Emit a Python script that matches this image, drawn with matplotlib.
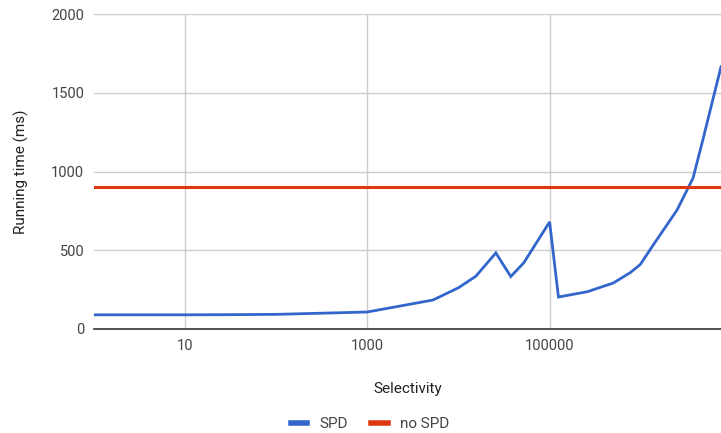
import matplotlib
matplotlib.use("Agg")
import matplotlib.pyplot as plt
from matplotlib.lines import Line2D

# values
selectivity = [1, 3, 10, 30, 100, 300, 1000, 5250, 10000, 15500, 25700, 37500,
               52000, 100000, 125000, 260000, 500000, 768000, 990000, 1370000,
               2500000, 3750000, 4800000, 7600000]
spd_ms = [90, 90, 90, 91, 93, 100, 108, 184, 262, 335, 483, 333,
          420, 680, 203, 237, 292, 358, 410, 533,
          755, 958, 1200, 1665]
no_spd_ms = 900

x_ticks = [10, 1000, 100000]
x_tick_labels = ["10", "1000", "100000"]
y_ticks = [0, 500, 1000, 1500, 2000]

blue = "#3366cc"
red = "#dc3912"
text_col = "#444444"

plt.rcParams["font.family"] = ["Roboto", "DejaVu Sans"]

fig = plt.figure(figsize=(7.21, 4.33), dpi=100)
ax = fig.add_axes([94 / 721, 104 / 433, 627 / 721, 315 / 433])

ax.plot(selectivity, spd_ms, color=blue, lw=2, solid_joinstyle="miter", zorder=3)
ax.axhline(no_spd_ms, color=red, lw=2.2, zorder=3)

ax.set_xscale("log")
ax.set_xlim(1, 7.6e6)
ax.set_ylim(0, 2000)

ax.set_xticks(x_ticks)
ax.set_xticklabels(x_tick_labels)
ax.xaxis.set_minor_locator(plt.NullLocator())
ax.set_yticks(y_ticks)

ax.grid(True, color="#cccccc", lw=1)
ax.set_axisbelow(True)
for side in ["top", "right", "left"]:
    ax.spines[side].set_visible(False)
ax.spines["bottom"].set_color("#333333")
ax.spines["bottom"].set_linewidth(1.2)
ax.spines["bottom"].set_zorder(4)

ax.tick_params(axis="both", length=0, labelsize=10.5, colors=text_col)
ax.tick_params(axis="x", pad=7)
ax.tick_params(axis="y", pad=7)

ax.set_xlabel("Selectivity", fontsize=11, color="#222222", labelpad=21)
ax.set_ylabel("Running time (ms)", fontsize=11, color="#222222", labelpad=16)

handles = [Line2D([], [], color=blue, lw=4), Line2D([], [], color=red, lw=4)]
fig.legend(handles, ["SPD", "no SPD"], loc="center", ncol=2,
           bbox_to_anchor=(370 / 721, 9 / 433), frameon=False,
           handlelength=1.1, columnspacing=1.5, handletextpad=0.8,
           labelcolor=text_col, fontsize=11)

fig.savefig("out.png", dpi=100)
